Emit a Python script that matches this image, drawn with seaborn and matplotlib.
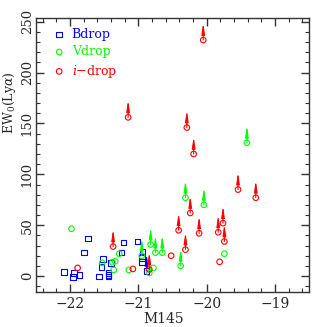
import numpy as np
import matplotlib
matplotlib.use("Agg")
import matplotlib.pyplot as plt
from matplotlib.ticker import MultipleLocator
import seaborn as sns

# B-dropouts
b_mag = [-22.09, -21.94, -21.96, -21.86, -21.80, -21.74, -21.58, -21.54, -21.52, -21.40,
         -21.44, -21.44, -21.44, -21.25, -21.22, -21.01, -20.94, -20.95, -20.95, -20.88]
b_ew = [4, 3, -1, 1, 23, 37, -0.5, 9, 17, 13,
        3, 1, -0.5, 23, 33, 34, 24, 18, 14, 5]
b_lim = [0, 0, 0, 0, 0, 0, 0, 0, 0, 0,
         0, 0, 0, 0, 0, 0, 0, 0, 0, 1]

# V-dropouts
v_mag = [-21.98, -21.53, -21.38, -21.34, -21.36, -21.28, -21.14, -20.95, -20.82, -20.75,
         -20.65, -20.84, -20.78, -20.38, -20.31, -20.04, -19.74, -19.41]
v_ew = [46.5, 13, 13.5, 14.5, 6, 22, 6, 20, 31, 23,
        23, 3, 8, 10, 77, 70, 22, 131]
v_lim = [0, 0, 0, 0, 0, 0, 0, 1, 1, 1,
         1, 0, 0, 1, 1, 1, 0, 1]

# i-dropouts
i_mag = [-21.89, -21.37, -21.15, -21.08, -20.84, -20.52, -20.41, -20.31, -20.29, -20.24,
         -20.19, -20.11, -20.05, -19.83, -19.81, -19.76, -19.74, -19.54, -19.28]
i_ew = [8, 29, 156, 7, 6.5, 20, 45, 26, 146, 62,
        120, 42, 232, 43, 14, 52, 34, 85, 77]
i_lim = [0, 1, 1, 0, 1, 0, 1, 1, 1, 1,
         1, 1, 1, 1, 0, 1, 1, 1, 1]

sns.set_theme(style="ticks")
plt.rcParams["font.family"] = ["DejaVu Serif", "DejaVu Sans"]
plt.rcParams["mathtext.fontset"] = "dejavuserif"

fig = plt.figure(figsize=(3.27, 3.27), dpi=100)
ax = fig.add_axes([0.110, 0.106, 0.835, 0.840])

groups = [
    (b_mag, b_ew, b_lim, "s", "blue", "Bdrop"),
    (v_mag, v_ew, v_lim, "o", "#00ff00", "Vdrop"),
    (i_mag, i_ew, i_lim, "o", "red", r"$i$" + "\u2212drop"),
]

for mag, ew, lim, mk, col, lab in groups:
    sns.scatterplot(x=mag, y=ew, marker=mk, s=16, fc="none", ec=col,
                    linewidth=0.8, label=lab, ax=ax, zorder=3)
    for x, y, l in zip(mag, ew, lim):
        if l:
            ax.annotate("", xy=(x, y + 17), xytext=(x, y),
                        arrowprops=dict(arrowstyle="-|>,head_length=0.8,head_width=0.12",
                                        color=col, lw=0.8, shrinkA=0, shrinkB=0,
                                        mutation_scale=8))

ax.set_xlim(-22.5, -18.5)
ax.set_ylim(-16, 254)
ax.xaxis.set_major_locator(MultipleLocator(1))
ax.xaxis.set_minor_locator(MultipleLocator(0.2))
ax.yaxis.set_major_locator(MultipleLocator(50))
ax.yaxis.set_minor_locator(MultipleLocator(10))
ax.tick_params(which="both", direction="in", top=True, right=True,
               labelsize=10, color="#333333")
ax.tick_params(which="major", length=6, width=1)
ax.tick_params(which="minor", length=3, width=0.8)
ax.tick_params(axis="y", pad=1.5, labelsize=9.5)
for lbl in ax.get_yticklabels():
    lbl.set_rotation(90)
    lbl.set_va("center")
for sp in ax.spines.values():
    sp.set_color("#333333")
    sp.set_linewidth(1)

ax.set_xlabel("M145", fontsize=10)
ax.set_ylabel(r"EW$_0$(Ly$\alpha$)", fontsize=9)
ax.xaxis.set_label_coords(0.469, -0.072)
ax.yaxis.set_label_coords(-0.064, 0.69)

leg = ax.legend(loc="upper left", bbox_to_anchor=(0.03, 0.99), frameon=False,
                fontsize=9, handletextpad=0.4, handlelength=1.2,
                labelspacing=0.35, borderaxespad=0.2)
for txt, (_, _, _, _, col, _) in zip(leg.get_texts(), groups):
    txt.set_color(col)

fig.savefig("out.png", dpi=100)
